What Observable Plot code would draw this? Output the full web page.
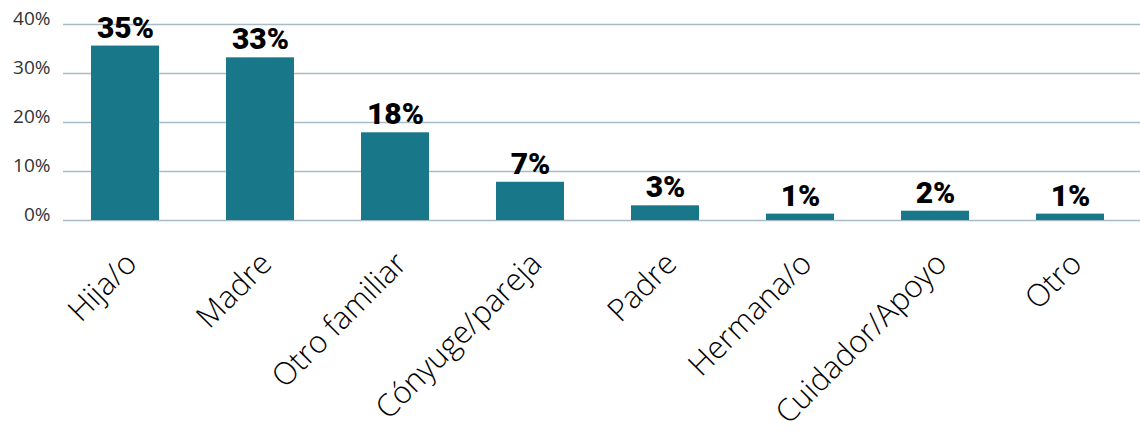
<!DOCTYPE html>
<html>
<head>
<meta charset="utf-8">
<script src="https://cdn.jsdelivr.net/npm/d3@7"></script>
<script src="https://cdn.jsdelivr.net/npm/@observablehq/plot@0.6"></script>
<style>
  html, body { margin: 0; padding: 0; background: #fff; }
  #chart svg { display: block; }
</style>
</head>
<body>
<div id="chart"></div>
<script>
const categories = ["Hija/o", "Madre", "Otro familiar", "Cónyuge/pareja", "Padre", "Hermana/o", "Cuidador/Apoyo", "Otro"];
const values = [35.6, 33.2, 17.9, 7.8, 3.0, 1.3, 1.9, 1.3];
const valueLabels = ["35%", "33%", "18%", "7%", "3%", "1%", "2%", "1%"];
const yTicks = [0, 10, 20, 30, 40];

const data = categories.map((c, i) => ({category: c, value: values[i], label: valueLabels[i]}));

const chart = Plot.plot({
  width: 1140,
  height: 438,
  marginLeft: 55,
  marginRight: 0,
  marginTop: 24,
  marginBottom: 218,
  style: {background: "#fff", overflow: "visible"},
  x: {domain: categories, paddingInner: 0.5, paddingOuter: 0.25, label: null},
  y: {domain: [0, 40], label: null},
  marks: [
    Plot.ruleY(yTicks, {stroke: "#a8bcc7", strokeWidth: 1.5, insetLeft: 8}),
    Plot.barY(data, {x: "category", y: "value", fill: "#18788a"}),
    Plot.text(data, {x: "category", y: "value", text: "label", dy: -18, fontSize: 30, fontWeight: 900, fontFamily: "Roboto", fill: "#000"}),
    Plot.axisY({ticks: yTicks, tickFormat: d => d + "%", tickSize: 0, tickPadding: 5, fontSize: 19, dy: -6, fontFamily: "Open Sans", color: "#333", label: null}),
    Plot.axisX({tickSize: 0, tickRotate: -45, tickPadding: 32, dy: 6, dx: 6, fontSize: 31, fontWeight: 300, fontFamily: "Open Sans", color: "#000", label: null})
  ]
});
document.getElementById("chart").appendChild(chart);
</script>
</body>
</html>
